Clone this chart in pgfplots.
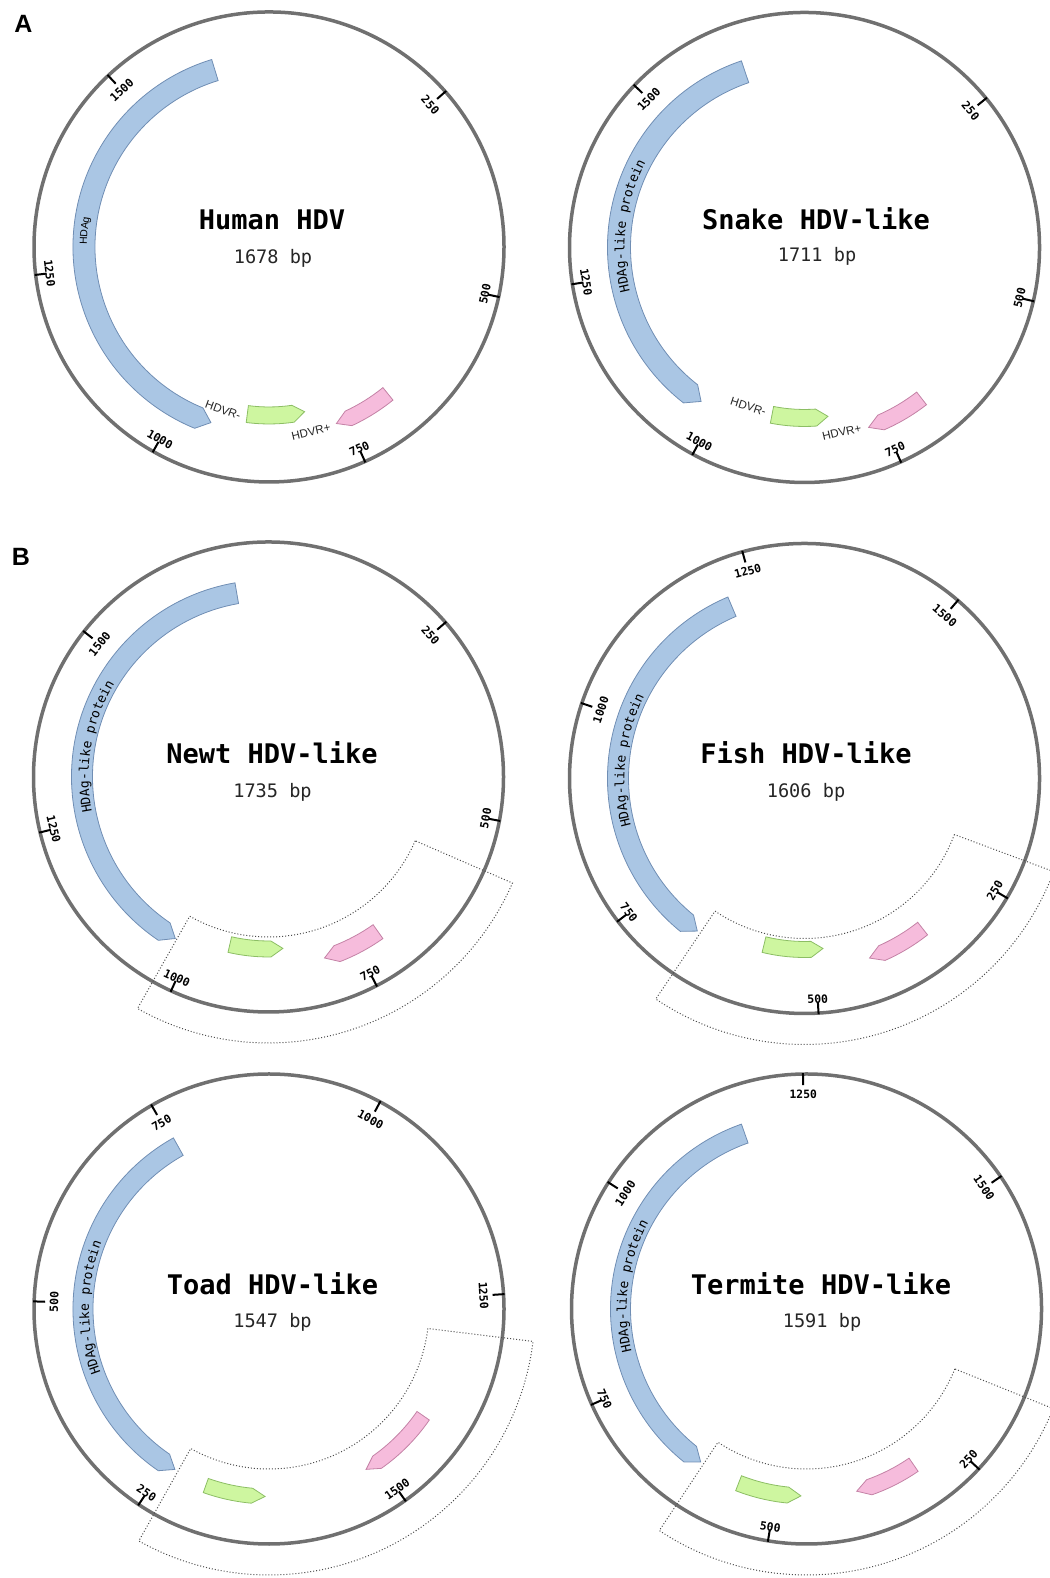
\documentclass[border=0pt]{standalone}
\usepackage{fontspec}
\setmainfont{Liberation Sans}
\setsansfont{Liberation Sans}
\setmonofont{DejaVu Sans Mono}
\usepackage{pgfplots}
\pgfplotsset{compat=1.18}
\usetikzlibrary{decorations.text}

\definecolor{ringc}{RGB}{112,112,112}
\definecolor{blueF}{RGB}{170,198,228}
\definecolor{blueD}{RGB}{112,142,180}
\definecolor{greenF}{RGB}{206,246,160}
\definecolor{greenD}{RGB}{140,190,100}
\definecolor{pinkF}{RGB}{246,188,220}
\definecolor{pinkD}{RGB}{196,130,166}

\tikzset{
  pc/.style={shift={(axis cs:0,0)}},
  ticklab/.style={font=\ttfamily\bfseries\fontsize{5.7}{6}\selectfont, inner sep=0pt},
  ttl/.style={font=\ttfamily\bfseries\fontsize{13.5}{15}\selectfont, anchor=base, inner sep=0pt},
  bps/.style={font=\ttfamily\fontsize{9.3}{11}\selectfont, anchor=base, inner sep=0pt, text=black!85},
  hdvr/.style={font=\sffamily\fontsize{5.8}{6}\selectfont, inner sep=0pt, text=black!85},
  dotsty/.style={draw=black!70, line width=0.5pt, dash pattern=on 0.5pt off 1pt},
}
\newcommand\protfont{\ttfamily\fontsize{6.5}{7}\selectfont}
\newcommand\hdagfont{\sffamily\fontsize{5.2}{6}\selectfont}

% ring + ticks + tick labels; uses \glen (genome length) and \goff (rotation offset, deg)
\newcommand\ringticks{%
  \draw[pc, draw=ringc, line width=1.75pt] (0pt,0pt) circle[radius=117.5pt];
  \addplot[black, line width=1pt, data cs=polar, unbounded coords=jump, forget plot]
    table[row sep=\\, x expr={90-(\goff+\thisrow{bp}/\glen*360)}, y=r]{
    bp r\\ 250 224\\ 250 236\\ nan nan\\ 500 224\\ 500 236\\ nan nan\\
    750 224\\ 750 236\\ nan nan\\ 1000 224\\ 1000 236\\ nan nan\\
    1250 224\\ 1250 236\\ nan nan\\ 1500 224\\ 1500 236\\};
  \foreach \tb in {250,500,750,1000,1250,1500}{%
    \pgfmathsetmacro\ang{mod(\goff+\tb/\glen*360+720,360)}%
    \pgfmathsetmacro\fl{(\ang>90)&&(\ang<270)}%
    \pgfmathsetmacro\rot{\fl>0.5 ? 180-\ang : -\ang}%
    \pgfmathsetmacro\rr{\fl>0.5 ? 110.5 : 107.5}%
    \pgfmathsetmacro\mm{90-\ang}%
    \edef\tmp{\noexpand\path[pc] (\mm:\rr pt) node[ticklab,rotate=\rot]{\tb};}\tmp
  }%
}
% feature arrow: rin, rout (px), flat-end angle, tip angle (deg clockwise from top), dir, fill, draw
\newcommand\feat[7]{%
  \filldraw[pc, fill=#6, draw=#7, line width=0.4pt]
    ({90-(#3)}:{(#2)*0.5pt}) arc[start angle={90-(#3)}, end angle={90-(#4)+(#5)*4}, radius={(#2)*0.5pt}]
    -- ({90-(#4)}:{((#1)+(#2))*0.25pt})
    -- ({90-(#4)+(#5)*4}:{(#1)*0.5pt})
    arc[start angle={90-(#4)+(#5)*4}, end angle={90-(#3)}, radius={(#1)*0.5pt}] -- cycle;}
% dotted sector: start angle, end angle (clockwise from top)
\newcommand\sector[2]{%
  \draw[pc, dotsty] ({90-(#1)}:80pt) arc[start angle={90-(#1)}, end angle={90-(#2)}, radius=80pt]
    -- ({90-(#2)}:133pt) arc[start angle={90-(#2)}, end angle={90-(#1)}, radius=133pt] -- cycle;}
% text along the blue arc: mid angle, font, text
\newcommand\protlabel[4]{%
  \path[pc, decorate, decoration={text along path, text={|#2|#3}, text align=center}]
    ({90-(#1)+30}:#4) arc[start angle={90-(#1)+30}, end angle={90-(#1)-30}, radius=#4];}

\begin{document}
\begin{tikzpicture}
\useasboundingbox (0pt,0pt) rectangle (524.5pt,789pt);

% ---------------- Human HDV ----------------
\def\glen{1678}\def\goff{-5}
\begin{axis}[at={(0pt,0pt)}, anchor=south west, x=0.5pt, y=0.5pt,
  xmin=-269, xmax=780, ymin=-1331, ymax=247, hide axis, clip=false]
\ringticks
\feat{174}{196}{343}{198.3}{-1}{blueF}{blueD}
\feat{160}{177}{187.4}{167.8}{-1}{greenF}{greenD}
\feat{181}{197}{141}{159.1}{1}{pinkF}{pinkD}
\protlabel{275}{\hdagfont}{HDAg}{91pt}
\path[pc] (1.5pt,8.5pt) node[ttl]{Human HDV};
\path[pc] (2pt,-8.15pt) node[bps]{1678 bp};
\path[pc] (-23pt,-81.5pt) node[hdvr,rotate=-20]{HDVR-};
\path[pc] (21pt,-92.5pt) node[hdvr,rotate=13]{HDVR+};
\end{axis}

% ---------------- Snake ----------------
\def\glen{1711}\def\goff{-2}
\begin{axis}[at={(0pt,0pt)}, anchor=south west, x=0.5pt, y=0.5pt,
  xmin=-804.5, xmax=244.5, ymin=-1330.5, ymax=247.5, hide axis, clip=false]
\ringticks
\feat{174}{197}{341.3}{213.9}{-1}{blueF}{blueD}
\feat{162}{179}{191}{172.1}{-1}{greenF}{greenD}
\feat{183}{199}{142.2}{160.4}{1}{pinkF}{pinkD}
\protlabel{277}{\protfont}{HDAg-like protein}{90pt}
\path[pc] (5.75pt,9.1pt) node[ttl]{Snake HDV-like};
\path[pc] (6.25pt,-7.1pt) node[bps]{1711 bp};
\path[pc] (-28.1pt,-79.6pt) node[hdvr,rotate=-18]{HDVR-};
\path[pc] (18.6pt,-92.4pt) node[hdvr,rotate=13]{HDVR+};
\end{axis}

% ---------------- Newt ----------------
\def\glen{1735}\def\goff{-3}
\begin{axis}[at={(0pt,0pt)}, anchor=south west, x=0.5pt, y=0.5pt,
  xmin=-268.5, xmax=780.5, ymin=-801, ymax=777, hide axis, clip=false]
\ringticks
\sector{113.5}{209.5}
\feat{176}{197}{350.2}{210}{-1}{blueF}{blueD}
\feat{164}{180}{193}{175.2}{-1}{greenF}{greenD}
\feat{181}{198}{144.7}{162.8}{1}{pinkF}{pinkD}
\protlabel{280}{\protfont}{HDAg-like protein}{90pt}
\path[pc] (1.75pt,6.85pt) node[ttl]{Newt HDV-like};
\path[pc] (2pt,-10.15pt) node[bps]{1735 bp};
\end{axis}

% ---------------- Fish ----------------
\def\glen{1606}\def\goff{64.5}
\begin{axis}[at={(0pt,0pt)}, anchor=south west, x=0.5pt, y=0.5pt,
  xmin=-804.5, xmax=244.5, ymin=-799.5, ymax=778.5, hide axis, clip=false]
\ringticks
\sector{110.5}{214}
\feat{176}{197}{337.1}{215.1}{-1}{blueF}{blueD}
\feat{163}{179}{193.7}{173.8}{-1}{greenF}{greenD}
\feat{183}{199}{141.8}{160.1}{1}{pinkF}{pinkD}
\protlabel{276}{\protfont}{HDAg-like protein}{90pt}
\path[pc] (0.75pt,7.6pt) node[ttl]{Fish HDV-like};
\path[pc] (0.75pt,-9.4pt) node[bps]{1606 bp};
\end{axis}

% ---------------- Toad ----------------
\def\glen{1547}\def\goff{155.5}
\begin{axis}[at={(0pt,0pt)}, anchor=south west, x=0.5pt, y=0.5pt,
  xmin=-269, xmax=780, ymin=-269, ymax=1309, hide axis, clip=false]
\ringticks
\sector{97}{209.3}
\feat{176}{196}{330.8}{210.4}{-1}{blueF}{blueD}
\feat{180}{195}{199.7}{181.2}{-1}{greenF}{greenD}
\feat{180}{195}{124.7}{148.8}{1}{pinkF}{pinkD}
\protlabel{270.5}{\protfont}{HDAg-like protein}{90pt}
\path[pc] (1.75pt,7pt) node[ttl]{Toad HDV-like};
\path[pc] (1.75pt,-9.15pt) node[bps]{1547 bp};
\end{axis}

% ---------------- Termite ----------------
\def\glen{1591}\def\goff{76.3}
\begin{axis}[at={(0pt,0pt)}, anchor=south west, x=0.5pt, y=0.5pt,
  xmin=-806.5, xmax=242.5, ymin=-269, ymax=1309, hide axis, clip=false]
\ringticks
\sector{112}{213.6}
\feat{176}{196}{340.6}{214.7}{-1}{blueF}{blueD}
\feat{179}{195}{201.3}{181.7}{-1}{greenF}{greenD}
\feat{181}{197}{145.5}{164.6}{1}{pinkF}{pinkD}
\protlabel{277.5}{\protfont}{HDAg-like protein}{90pt}
\path[pc] (7.25pt,7pt) node[ttl]{Termite HDV-like};
\path[pc] (7.75pt,-9.15pt) node[bps]{1591 bp};
\end{axis}

\node[font=\sffamily\bfseries\fontsize{12.5}{14}\selectfont, inner sep=0pt] at (11.75pt,777pt) {A};
\node[font=\sffamily\bfseries\fontsize{12.5}{14}\selectfont, inner sep=0pt] at (10.5pt,510.5pt) {B};
\end{tikzpicture}
\end{document}
